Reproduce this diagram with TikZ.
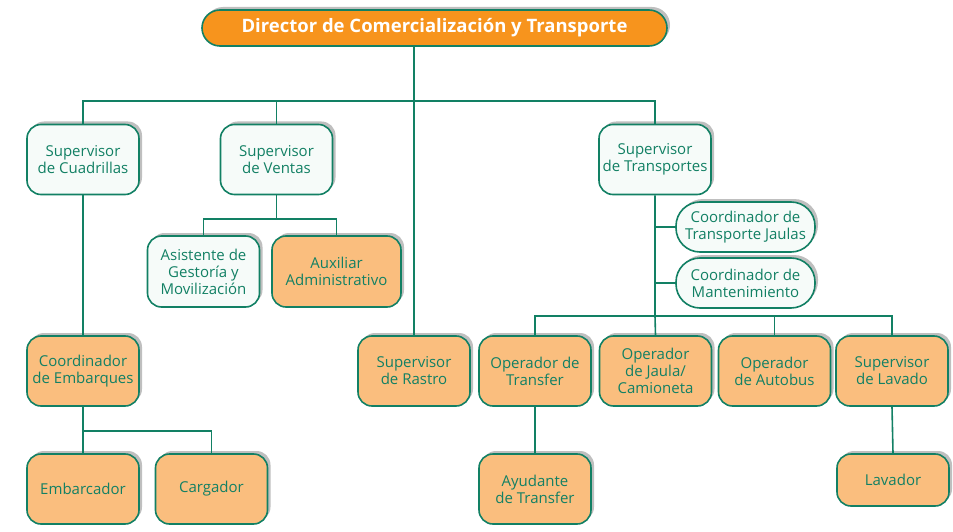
\documentclass[tikz,border=0pt]{standalone}
\usepackage{fontspec}
\setmainfont{Open Sans}
\usetikzlibrary{shadows}

\definecolor{orggreen}{RGB}{18,128,100}
\definecolor{orgorange}{RGB}{247,148,29}
\definecolor{orglight}{RGB}{250,190,126}
\definecolor{orgwhite}{RGB}{246,251,249}

\begin{document}
\begin{tikzpicture}[x=1pt,y=1pt,yscale=-1,
  line width=1.6pt, draw=orggreen,
  box/.style={draw=orggreen, line width=1.6pt, rounded corners=14pt, align=center,
    text=orggreen, font=\fontsize{15}{17}\selectfont, inner sep=2pt,
    minimum width=112pt, minimum height=70pt,
    drop shadow={shadow xshift=3pt, shadow yshift=3pt, opacity=0.25, fill=black}},
  wbox/.style={box, fill=orgwhite},
  obox/.style={box, fill=orglight},
  pill/.style={wbox, rounded corners=24pt, minimum width=139pt, minimum height=50pt},
  link/.style={draw=orggreen, line width=1.6pt}
]
\useasboundingbox (0,0) rectangle (953,532);

%Rounded Rect: director
\draw (434.5,28) node [box, fill=orgorange, text=white, rounded corners=18pt,
  minimum width=465pt, minimum height=36pt,
  font=\bfseries\fontsize{18.5}{20}\selectfont] (dir) {Director de Comercialización y Transporte};

%Rounded Rect: second level
\draw (83,159.5) node [wbox] (cuad) {Supervisor\\de Cuadrillas};
\draw (276.5,159.5) node [wbox] (vent) {Supervisor\\de Ventas};
\draw (655,159.5) node [wbox] (trans) {Supervisor\\de Transportes};
\draw (414,371) node [obox] (rastro) {Supervisor\\de Rastro};

%Rounded Rect: ventas
\draw (203.5,271.5) node [wbox, minimum height=71pt] (asis) {Asistente de\\Gestoría y\\Movilización};
\draw (336.5,271.5) node [obox, minimum width=129pt, minimum height=71pt] (aux) {Auxiliar\\Administrativo};

%Rounded Rect: cuadrillas
\draw (83,371) node [obox] (coemb) {Coordinador\\de Embarques};
\draw (83,489) node [obox] (embarc) {Embarcador};
\draw (211.5,489) node [obox] (carg) {Cargador};

%Rounded Rect: transportes
\draw (745.5,227) node [pill] (cjau) {Coordinador de\\Transporte Jaulas};
\draw (745.5,283) node [pill] (cman) {Coordinador de\\Mantenimiento};
\draw (535,371) node [obox] (optra) {Operador de\\Transfer};
\draw (655.5,371) node [obox] (opjau) {Operador\\de Jaula/\\Camioneta};
\draw (774.5,371) node [obox] (opaut) {Operador\\de Autobus};
\draw (892,371) node [obox] (suplav) {Supervisor\\de Lavado};
\draw (535,489) node [obox] (ayu) {Ayudante\\de Transfer};
\draw (893,480) node [obox, minimum height=52pt] (lav) {Lavador};

%Straight Lines
\coordinate (topbar) at (414,101);
\coordinate (ventbar) at (276.5,219);
\coordinate (embbar) at (83,431);
\coordinate (opbar) at (655,316);

\draw [link] (dir.south -| topbar) -- (rastro.north);
\draw [link] (cuad.north) |- (topbar) -| (trans.north);
\draw [link] (vent.north) -- (vent.north |- topbar);

\draw [link] (vent.south) -- (ventbar);
\draw [link] (asis.north) |- (ventbar) -| (aux.north);

\draw [link] (cuad.south) -- (coemb.north);
\draw [link] (coemb.south) -- (embarc.north);
\draw [link] (embbar) -| (carg.north);

\draw [link] (trans.south) -- (opbar) -- (opjau.north);
\draw [link] (trans.south |- cjau.west) -- (cjau.west);
\draw [link] (trans.south |- cman.west) -- (cman.west);
\draw [link] (optra.north) |- (opbar) -| (suplav.north);
\draw [link] (opbar) -| (opaut.north);
\draw [link] (optra.south) -- (ayu.north);
\draw [link] (suplav.south) -- (lav.north);

\end{tikzpicture}
\end{document}
